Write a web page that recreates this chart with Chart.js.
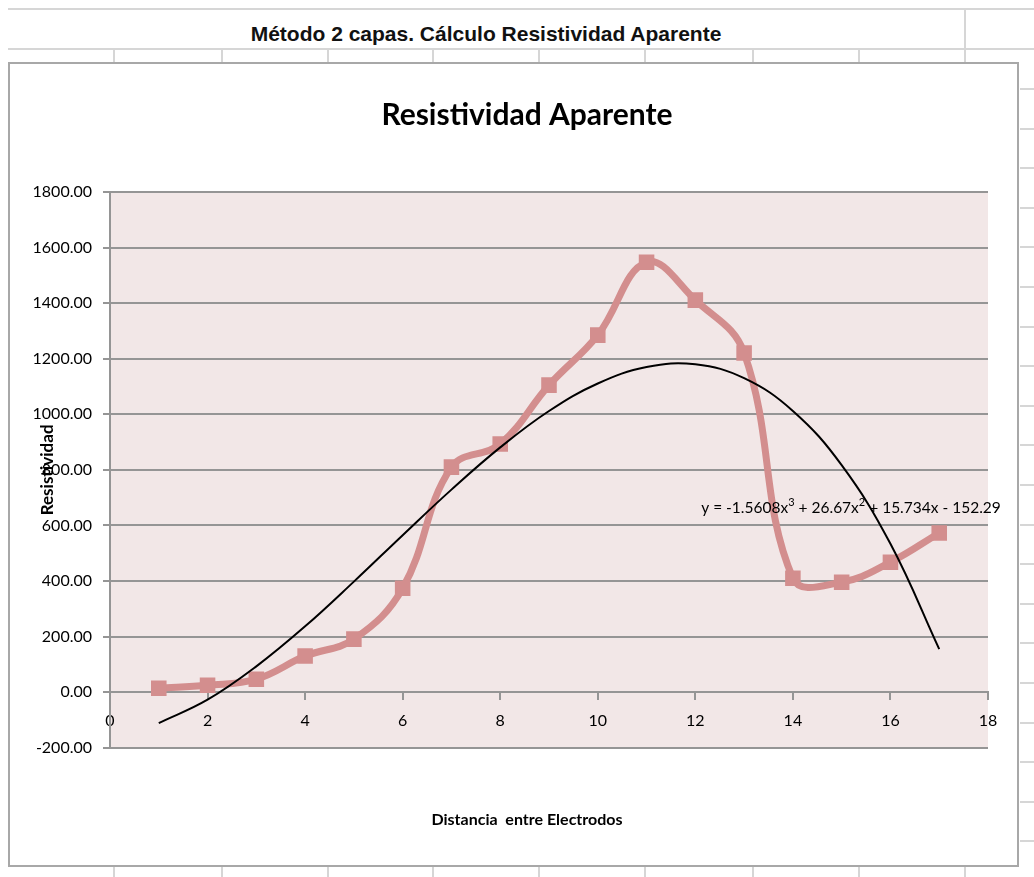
<!DOCTYPE html>
<html>
<head>
<meta charset="utf-8">
<script src="https://cdn.jsdelivr.net/npm/chart.js@4.4.0/dist/chart.umd.min.js"></script>
<style>
  html, body { margin: 0; padding: 0; background: #fff; overflow: hidden; }
  #page { position: relative; width: 1034px; height: 877px; }
  .hl, .vl { position: absolute; background: #d6d6d6; }
  .hl { height: 2px; }
  .vl { width: 2px; }
  #sheetTitle {
    position: absolute; left: 0; width: 972px; top: 22px; line-height: 24px;
    text-align: center; font: bold 21px "Liberation Sans", Arial, sans-serif; color: #111;
  }
  #chartBox {
    position: absolute; left: 8px; top: 62px; width: 1007px; height: 801px;
    border: 2px solid #a8a8a8; background: #fff;
  }
  #chart { position: absolute; left: 0; top: 0; }
</style>
</head>
<body>
<div id="page">
  <div id="sheetTitle">Método 2 capas. Cálculo Resistividad Aparente</div>
  <div id="chartBox"></div>
  <canvas id="chart" width="1034" height="877"></canvas>
</div>
<script>
// datos
const distancias = [1, 2, 3, 4, 5, 6, 7, 8, 9, 10, 11, 12, 13, 14, 15, 16, 17];
const resistividad = [14, 25, 47, 130, 191, 374, 810, 893, 1105, 1285, 1547, 1411, 1221, 410, 396, 468, 573];
const tendencia = [-111, -27, 93, 237, 398, 565, 729, 881, 1012, 1111, 1170, 1180, 1130, 1012, 817, 534, 155];
const ecuacion = ['y = -1.5608x', '3', ' + 26.67x', '2', ' + 15.734x - 152.29'];

// celdas de la hoja de calculo detras del grafico
const page = document.getElementById('page');
function line(cls, left, top, len) {
  const d = document.createElement('div');
  d.className = cls;
  d.style.left = left + 'px';
  d.style.top = top + 'px';
  if (cls === 'hl') d.style.width = len + 'px'; else d.style.height = len + 'px';
  page.insertBefore(d, page.firstChild);
}
line('hl', 8, 8, 1026);
line('hl', 8, 48, 1026);
line('vl', 964, 8, 54);
[113, 221, 327, 432, 538, 644, 752, 858].forEach(x => { line('vl', x, 48, 14); line('vl', x, 866, 11); });
line('vl', 964, 866, 11);
for (let y = 88; y < 877; y += 39.6) line('hl', 1020, Math.round(y), 14);

const fondoArea = {
  id: 'fondoArea',
  beforeDraw(chart) {
    const {ctx, chartArea: a} = chart;
    ctx.save();
    ctx.fillStyle = '#f2e7e7';
    ctx.fillRect(a.left, a.top, a.right - a.left, a.bottom - a.top);
    ctx.restore();
  }
};

const etiquetaEcuacion = {
  id: 'etiquetaEcuacion',
  afterDatasetsDraw(chart) {
    const {ctx, scales: {x, y}} = chart;
    let px = x.getPixelForValue(12.12);
    const py = y.getPixelForValue(644);
    ctx.save();
    ctx.fillStyle = '#000';
    ctx.textBaseline = 'alphabetic';
    ecuacion.forEach((t, i) => {
      const sup = i % 2 === 1;
      ctx.font = sup ? '11px Lato' : '15.5px Lato';
      ctx.fillText(t, px, sup ? py - 7 : py);
      px += ctx.measureText(t).width;
    });
    ctx.restore();
  }
};

const gris = '#959595';
const tickFont = { family: 'Lato', size: 16 };

new Chart(document.getElementById('chart'), {
  type: 'line',
  data: {
    datasets: [
      {
        label: 'Resistividad',
        data: distancias.map((d, i) => ({ x: d, y: resistividad[i] })),
        borderColor: '#d38e8e', backgroundColor: '#d38e8e',
        borderWidth: 7, tension: 0.4,
        pointStyle: 'rect', pointRadius: 11, pointBorderWidth: 0,
        order: 1
      },
      {
        label: 'Polinómica',
        data: distancias.map((d, i) => ({ x: d, y: tendencia[i] })),
        borderColor: '#000', borderWidth: 2, pointRadius: 0, tension: 0.4,
        order: 0
      }
    ]
  },
  options: {
    responsive: false, animation: false, events: [],
    layout: { padding: { left: 20, right: 0, top: 0, bottom: 0 } },
    plugins: {
      legend: { display: false },
      tooltip: { enabled: false },
      title: {
        display: true, text: 'Resistividad Aparente', color: '#000',
        font: { family: 'Lato', size: 30, weight: 'bold' },
        padding: { top: 97, bottom: 59 }
      },
      subtitle: {
        display: true, position: 'bottom', text: 'Distancia  entre Electrodos', color: '#000',
        font: { family: 'Lato', size: 16, weight: 'bold' },
        padding: { top: 62, bottom: 48 }
      }
    },
    scales: {
      x: {
        type: 'linear', position: { y: 0 }, min: 0, max: 18,
        ticks: { stepSize: 2, color: '#000', font: tickFont, padding: 12 },
        grid: { drawOnChartArea: false, tickLength: 7, color: gris, lineWidth: 2 },
        border: { color: gris, width: 2 }
      },
      y: {
        min: -200, max: 1800,
        ticks: { stepSize: 200, color: '#000', font: tickFont, padding: 11, callback: v => v.toFixed(2) },
        grid: { color: gris, lineWidth: 2, tickLength: 7 },
        border: { color: gris, width: 2 },
        title: {
          display: true, text: 'Resistividad', color: '#000',
          font: { family: 'Lato', size: 17, weight: 'bold' },
          padding: { top: 17, bottom: 0 }
        },
        afterFit(s) { s.width = 90; }
      },
      y2: {
        position: 'right', display: true,
        ticks: { display: false }, grid: { display: false }, border: { display: false },
        afterFit(s) { s.width = 46; }
      }
    }
  },
  plugins: [fondoArea, etiquetaEcuacion]
});
</script>
</body>
</html>
